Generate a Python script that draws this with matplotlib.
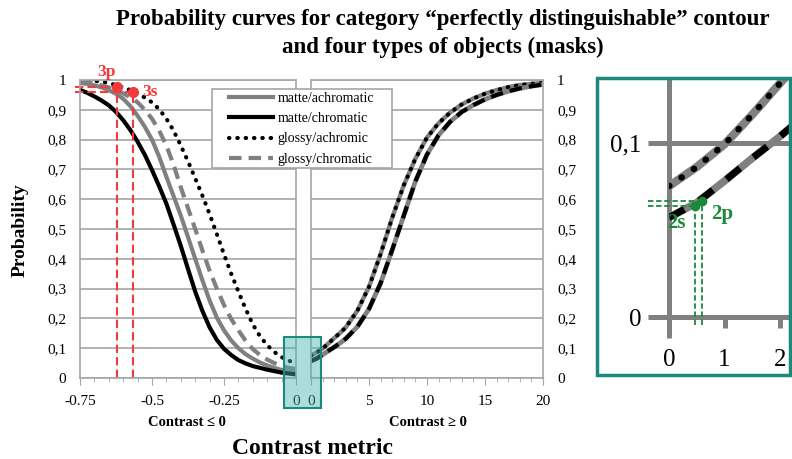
import matplotlib.pyplot as plt
from matplotlib.patches import Rectangle
from matplotlib.ticker import MultipleLocator

plt.rcParams['font.family'] = ['Liberation Serif', 'DejaVu Serif']

# Kontrast <= 0 (linkes Feld), Schrittweite 0.025
lx = [-0.750, -0.725, -0.700, -0.675, -0.650, -0.625, -0.600, -0.575,
      -0.550, -0.525, -0.500, -0.475, -0.450, -0.425, -0.400, -0.375,
      -0.350, -0.325, -0.300, -0.275, -0.250, -0.225, -0.200, -0.175,
      -0.150, -0.125, -0.100, -0.075, -0.050, -0.025, 0.000]
matte_achrom_l = [0.990, 0.987, 0.982, 0.975, 0.966, 0.954, 0.937, 0.912,
                  0.880, 0.843, 0.800, 0.742, 0.675, 0.610, 0.545, 0.473,
                  0.400, 0.328, 0.260, 0.203, 0.160, 0.126, 0.100, 0.080,
                  0.065, 0.052, 0.042, 0.034, 0.027, 0.022, 0.018]
matte_chrom_l = [0.967, 0.957, 0.945, 0.931, 0.915, 0.893, 0.865, 0.832,
                 0.793, 0.749, 0.698, 0.643, 0.585, 0.515, 0.443, 0.366,
                 0.290, 0.225, 0.170, 0.128, 0.098, 0.077, 0.060, 0.049,
                 0.040, 0.034, 0.028, 0.023, 0.018, 0.015, 0.012]
glossy_achrom_l = [1.000, 0.999, 0.997, 0.994, 0.990, 0.983, 0.975, 0.966,
                   0.955, 0.941, 0.925, 0.902, 0.870, 0.830, 0.780, 0.727,
                   0.670, 0.612, 0.550, 0.483, 0.415, 0.350, 0.290, 0.232,
                   0.180, 0.140, 0.110, 0.087, 0.070, 0.058, 0.050]
glossy_chrom_l = [0.995, 0.992, 0.988, 0.982, 0.975, 0.966, 0.955, 0.942,
                  0.925, 0.900, 0.870, 0.830, 0.780, 0.715, 0.640, 0.570,
                  0.500, 0.428, 0.360, 0.300, 0.245, 0.198, 0.160, 0.125,
                  0.097, 0.077, 0.062, 0.050, 0.040, 0.034, 0.030]

# Kontrast >= 0 (rechtes Feld), achromatisch bzw. chromatisch fallen zusammen
rx = [0, 0.5, 1, 1.5, 2, 2.5, 3, 4, 5, 6, 7, 8, 9, 10, 11, 12,
      13, 14, 15, 16, 17, 18, 19, 20]
achrom_r = [0.075, 0.086, 0.099, 0.116, 0.134, 0.151, 0.170, 0.226, 0.306,
            0.416, 0.538, 0.647, 0.736, 0.807, 0.855, 0.891, 0.918, 0.938,
            0.954, 0.966, 0.976, 0.983, 0.987, 0.990]
chrom_r = [0.057, 0.0655, 0.078, 0.091, 0.1035, 0.117, 0.132, 0.172, 0.232,
           0.318, 0.430, 0.545, 0.660, 0.750, 0.815, 0.860, 0.893, 0.916,
           0.935, 0.950, 0.962, 0.972, 0.979, 0.985]

# Schwellen 3p / 3s (links) und 2s / 2p (Zoom)
red_x = [-0.62, -0.565]
red_y = [0.977, 0.959]
red_lab = ['3p', '3s']
green_x = [0.47, 0.60]
green_y = [0.0638, 0.0667]
green_lab = ['2s', '2p']

labels = ['matte/achromatic', 'matte/chromatic', 'glossy/achromic', 'glossy/chromatic']
yticks = [i / 10 for i in range(11)]
ytick_lab = ['0'] + ['0,%d' % i for i in range(1, 10)] + ['1']

GREY = '#808080'
GRID = '#a6a6a6'
RED = '#f23a3a'
GREEN = '#1a8a3a'
TEAL = '#1b8a7d'

W, H = 792, 459
fig = plt.figure(figsize=(W / 100, H / 100), dpi=100)


def fx(px):
    return px / W


def fy(py):
    return 1 - py / H


ax1 = fig.add_axes([fx(80), fy(378), 216 / W, 298 / H])
ax2 = fig.add_axes([fx(311), fy(378), 232 / W, 298 / H])

for ax in (ax1, ax2):
    ax.set_ylim(0, 1)
    ax.set_yticks(yticks)
    ax.set_yticklabels(ytick_lab)
    ax.yaxis.grid(True, color=GRID, lw=1.2)
    ax.set_axisbelow(True)
    for s in ax.spines.values():
        s.set_color(GRID)
        s.set_linewidth(1.2)
    ax.tick_params(axis='y', length=0, labelsize=11, pad=10)
    ax.tick_params(axis='x', which='major', length=5, color=GRID, labelsize=11, pad=7)
    ax.tick_params(axis='x', which='minor', length=3, color=GRID)

ax1.set_xlim(-0.75, 0)
ax1.set_xticks([-0.75, -0.5, -0.25, 0])
ax1.set_xticklabels(['-0.75', '-0.5', '-0.25', '0'])
ax1.xaxis.set_minor_locator(MultipleLocator(0.05))

ax2.set_xlim(0, 20)
ax2.set_xticks([0, 5, 10, 15, 20])
ax2.xaxis.set_minor_locator(MultipleLocator(1))
ax2.yaxis.tick_right()

dot = (0, (0.1, 1.9))
dash = (0, (3, 1.7))

# linkes Feld: vier getrennte Kurven
h_ga, = ax1.plot(lx, glossy_achrom_l, color='black', lw=3, ls=dot,
                 dash_capstyle='round', label=labels[2])
h_gc, = ax1.plot(lx, glossy_chrom_l, color=GREY, lw=3, ls=dash, label=labels[3])
h_ma, = ax1.plot(lx, matte_achrom_l, color=GREY, lw=3, label=labels[0])
h_mc, = ax1.plot(lx, matte_chrom_l, color='black', lw=3, label=labels[1])

# rechtes Feld: Kurven liegen paarweise übereinander
ax2.plot(rx, achrom_r, color=GREY, lw=3.2)
ax2.plot(rx, achrom_r, color='black', lw=3, ls=dot, dash_capstyle='round')
ax2.plot(rx, chrom_r, color=GREY, lw=3.4)
ax2.plot(rx, chrom_r, color='black', lw=3, ls=dash)

# Schwellen 3p / 3s
for x, y in zip(red_x, red_y):
    ax1.plot([x, x], [0, y], color=RED, lw=1.5, ls=(0, (4, 2)), clip_on=False)
    ax1.plot([-0.767, x], [y, y], color=RED, lw=1.5, ls=(0, (4, 2)), clip_on=False)
    ax1.plot(x, y, 'o', color=RED, ms=7, clip_on=False, zorder=5)
ax1.text(-0.657, 1.028, red_lab[0], color=RED, fontsize=12.5, fontweight='bold',
         ha='center', va='center')
ax1.text(-0.507, 0.961, red_lab[1], color=RED, fontsize=12.5, fontweight='bold',
         ha='center', va='center')

# Legende mit eigenem Rahmen
fig.patches.append(Rectangle((fx(212), fy(168)), 180 / W, 79 / H, transform=fig.transFigure,
                             facecolor='white', edgecolor=GRID, lw=1.2, zorder=4))
fig.legend(handles=[h_ma, h_mc, h_ga, h_gc], loc='upper left',
           bbox_to_anchor=(fx(229), fy(92)), frameon=False, fontsize=10,
           borderpad=0, borderaxespad=0, handlelength=3.2, handletextpad=0.3,
           labelspacing=0.52)

# markierter Bereich um Kontrast 0
fig.patches.append(Rectangle((fx(284), fy(408)), 37 / W, 71 / H, transform=fig.transFigure,
                             facecolor='#48b5b5', alpha=0.45, edgecolor='none', zorder=4))
fig.patches.append(Rectangle((fx(284), fy(408)), 37 / W, 71 / H, transform=fig.transFigure,
                             facecolor='none', edgecolor=TEAL, lw=1.5, zorder=4))

# Zoom auf den Bereich 0..2
fig.patches.append(Rectangle((fx(597), fy(375)), 193 / W, 297 / H, transform=fig.transFigure,
                             facecolor='none', edgecolor=TEAL, lw=2.5, zorder=4))
axz = fig.add_axes([fx(669), fy(317), 121 / W, 239 / H])
axz.set_xlim(0, 2.18)
axz.set_ylim(0, 0.137)
for s in axz.spines.values():
    s.set_visible(False)
axz.set_xticks([0, 1, 2])
axz.set_xticklabels(['0', '1', '2'])
axz.set_yticks([0, 0.1])
axz.set_yticklabels(['0', '0,1'])
axz.tick_params(axis='both', length=0, labelsize=18)
axz.tick_params(axis='y', pad=20)
axz.tick_params(axis='x', pad=23)
axz.patch.set_alpha(0)

for y in (0, 0.1):
    axz.plot([-0.38, 2.18], [y, y], color=GREY, lw=3.6, clip_on=False, solid_capstyle='butt')
axz.plot([0, 0], [-0.012, 0.137], color=GREY, lw=3.6, clip_on=False, solid_capstyle='butt')
for x in (1, 2):
    axz.plot([x, x], [0, -0.0065], color=GREY, lw=3.6, clip_on=False, solid_capstyle='butt')

axz.plot(rx, achrom_r, color=GREY, lw=6)
axz.plot(rx, achrom_r, color='black', lw=4.5, ls=(0, (0.1, 2.3)), dash_capstyle='round')
axz.plot(rx, chrom_r, color=GREY, lw=5.5)
axz.plot(rx, chrom_r, color='black', lw=5, ls=(0, (2.5, 2.5)))

for x, y in zip(green_x, green_y):
    axz.plot([x, x], [-0.0046, y], color=GREEN, lw=1.3, ls=(0, (3, 1.5)), clip_on=False)
    axz.plot([-0.38, x], [y, y], color=GREEN, lw=1.3, ls=(0, (3, 1.5)), clip_on=False)
    axz.plot(x, y, 'o', color=GREEN, ms=6, clip_on=False, zorder=5)
axz.text(0.14, 0.054, green_lab[0], color=GREEN, fontsize=15, fontweight='bold',
         ha='center', va='center')
axz.text(0.95, 0.059, green_lab[1], color=GREEN, fontsize=15, fontweight='bold',
         ha='center', va='center')

# Beschriftungen
fig.text(fx(443), fy(20), 'Probability curves for category \u201cperfectly distinguishable\u201d contour',
         ha='center', va='center', fontsize=16.5, fontweight='bold')
fig.text(fx(443), fy(47), 'and four types of objects (masks)',
         ha='center', va='center', fontsize=16.5, fontweight='bold')
fig.text(fx(20), fy(230), 'Probability', rotation=90, ha='center', va='center',
         fontsize=14, fontweight='bold')
fig.text(fx(187), fy(423), 'Contrast \u2264 0', ha='center', va='center',
         fontsize=10.5, fontweight='bold')
fig.text(fx(428), fy(423), 'Contrast \u2265 0', ha='center', va='center',
         fontsize=10.5, fontweight='bold')
fig.text(fx(312), fy(448), 'Contrast metric', ha='center', va='center',
         fontsize=17, fontweight='bold')

fig.savefig('out.png', dpi=100)
